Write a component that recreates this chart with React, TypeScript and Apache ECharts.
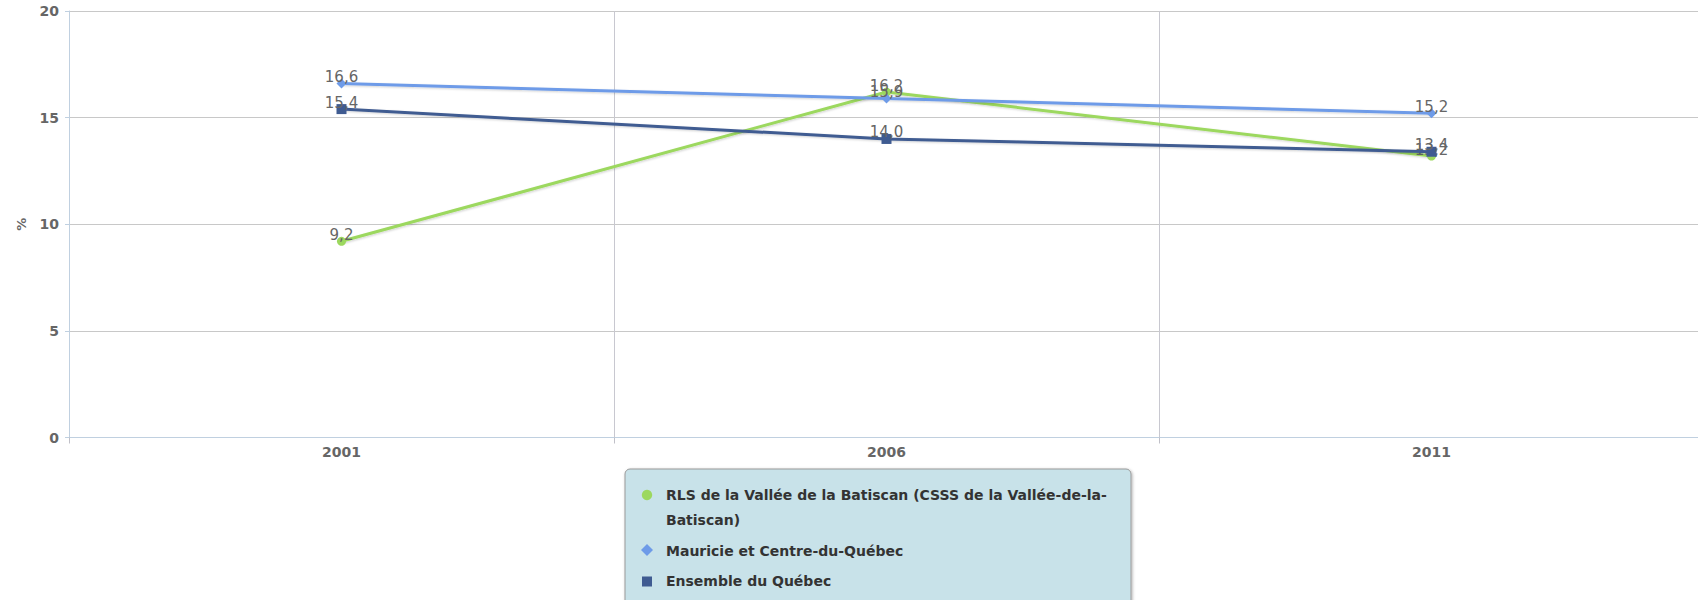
import React, { useEffect, useRef } from "react";
import * as echarts from "echarts";

const years = ["2001", "2006", "2011"];
const rlsName = "RLS de la Vallée de la Batiscan (CSSS de la Vallée-de-la-Batiscan)";
const rlsNameWrapped = "RLS de la Vallée de la Batiscan (CSSS de la Vallée-de-la-\nBatiscan)";
const mauricieName = "Mauricie et Centre-du-Québec";
const quebecName = "Ensemble du Québec";
const rlsValues = [9.2, 16.2, 13.2];
const mauricieValues = [16.6, 15.9, 15.2];
const quebecValues = [15.4, 14.0, 13.4];
const yTicks = { min: 0, max: 20, interval: 5 };

const FONT = "DejaVu Sans, Verdana, sans-serif";
const GREEN = "#9cd85e";
const BLUE = "#6e9be8";
const NAVY = "#3f5b91";

function makeSeries(name: string, data: number[], color: string, symbol: string, size: number, z: number) {
  return {
    name,
    type: "line",
    data,
    z,
    symbol,
    symbolSize: size,
    itemStyle: { color },
    lineStyle: {
      color,
      width: 3,
      shadowColor: "rgba(0,0,0,0.18)",
      shadowBlur: 2,
      shadowOffsetX: 1,
      shadowOffsetY: 1,
    },
    label: {
      show: true,
      position: "top",
      distance: -6,
      color: "#666",
      fontFamily: FONT,
      fontSize: 15,
      formatter: (p: any) => Number(p.value).toFixed(1).replace(".", ","),
    },
  };
}

export default function App() {
  const ref = useRef<HTMLDivElement>(null);
  useEffect(() => {
    if (!ref.current) return;
    const chart = echarts.init(ref.current, undefined, { renderer: "svg" });
    chart.setOption({
      animation: false,
      backgroundColor: "#fff",
      grid: {
        left: 69,
        top: 11,
        right: -6,
        bottom: 162.5,
        containLabel: false,
        outerBoundsMode: "none",
      },
      xAxis: {
        type: "category",
        data: years,
        boundaryGap: true,
        axisLine: { show: true, lineStyle: { color: "#c0d0e0", width: 1 } },
        axisTick: { show: true, length: 6, lineStyle: { color: "#c0c0c8" } },
        splitLine: { show: true, lineStyle: { color: "#c8c8d0", width: 1 } },
        axisLabel: { color: "#666", fontFamily: FONT, fontWeight: "bold", fontSize: 14, margin: 7 },
      },
      yAxis: {
        type: "value",
        min: yTicks.min,
        max: yTicks.max,
        interval: yTicks.interval,
        name: "%",
        nameLocation: "middle",
        nameGap: 41,
        nameRotate: 90,
        nameTextStyle: { color: "#666", fontFamily: FONT, fontWeight: "bold", fontSize: 13 },
        axisLine: { show: true, lineStyle: { color: "#c0d0e0", width: 1 } },
        axisTick: { show: true, length: 4, lineStyle: { color: "#c0d0e0" } },
        splitLine: { show: true, lineStyle: { color: "#c8c8c8", width: 1 } },
        axisLabel: { color: "#666", fontFamily: FONT, fontWeight: "bold", fontSize: 14, margin: 10 },
      },
      legend: {
        orient: "vertical",
        left: 625,
        top: 469,
        backgroundColor: "#c8e2e9",
        borderColor: "#9a9a9a",
        borderWidth: 1,
        borderRadius: 5,
        padding: [13, 10, 14, 17],
        itemGap: 5,
        itemWidth: 19,
        itemHeight: 10,
        shadowColor: "rgba(0,0,0,0.3)",
        shadowBlur: 3,
        shadowOffsetX: 1,
        shadowOffsetY: 1,
        formatter: (name: string) => (name === rlsName ? rlsNameWrapped : name),
        textStyle: {
          color: "#333",
          fontFamily: FONT,
          fontWeight: "bold",
          fontSize: 14,
          lineHeight: 25.5,
          width: 455,
        },
        data: [
          { name: rlsName, icon: "circle", itemStyle: { opacity: 0 } },
          { name: mauricieName, icon: "diamond", itemStyle: { opacity: 0 } },
          { name: quebecName, icon: "rect", itemStyle: { opacity: 0 } },
        ],
      },
      graphic: [
        { type: "circle", shape: { cx: 647, cy: 495, r: 5.2 }, style: { fill: GREEN }, z: 100 },
        {
          type: "polygon",
          shape: { points: [[647, 544], [653, 550], [647, 556], [641, 550]] },
          style: { fill: BLUE },
          z: 100,
        },
        { type: "rect", shape: { x: 642, y: 576.5, width: 10, height: 10 }, style: { fill: NAVY }, z: 100 },
      ],
      series: [
        makeSeries(rlsName, rlsValues, GREEN, "circle", 9, 2),
        makeSeries(mauricieName, mauricieValues, BLUE, "diamond", 10, 3),
        makeSeries(quebecName, quebecValues, NAVY, "rect", 10, 4),
      ],
    });
    return () => chart.dispose();
  }, []);
  return (
    <div
      ref={ref}
      style={{ position: "fixed", left: 0, top: 0, width: 1698, height: 600, background: "#fff" }}
    />
  );
}
